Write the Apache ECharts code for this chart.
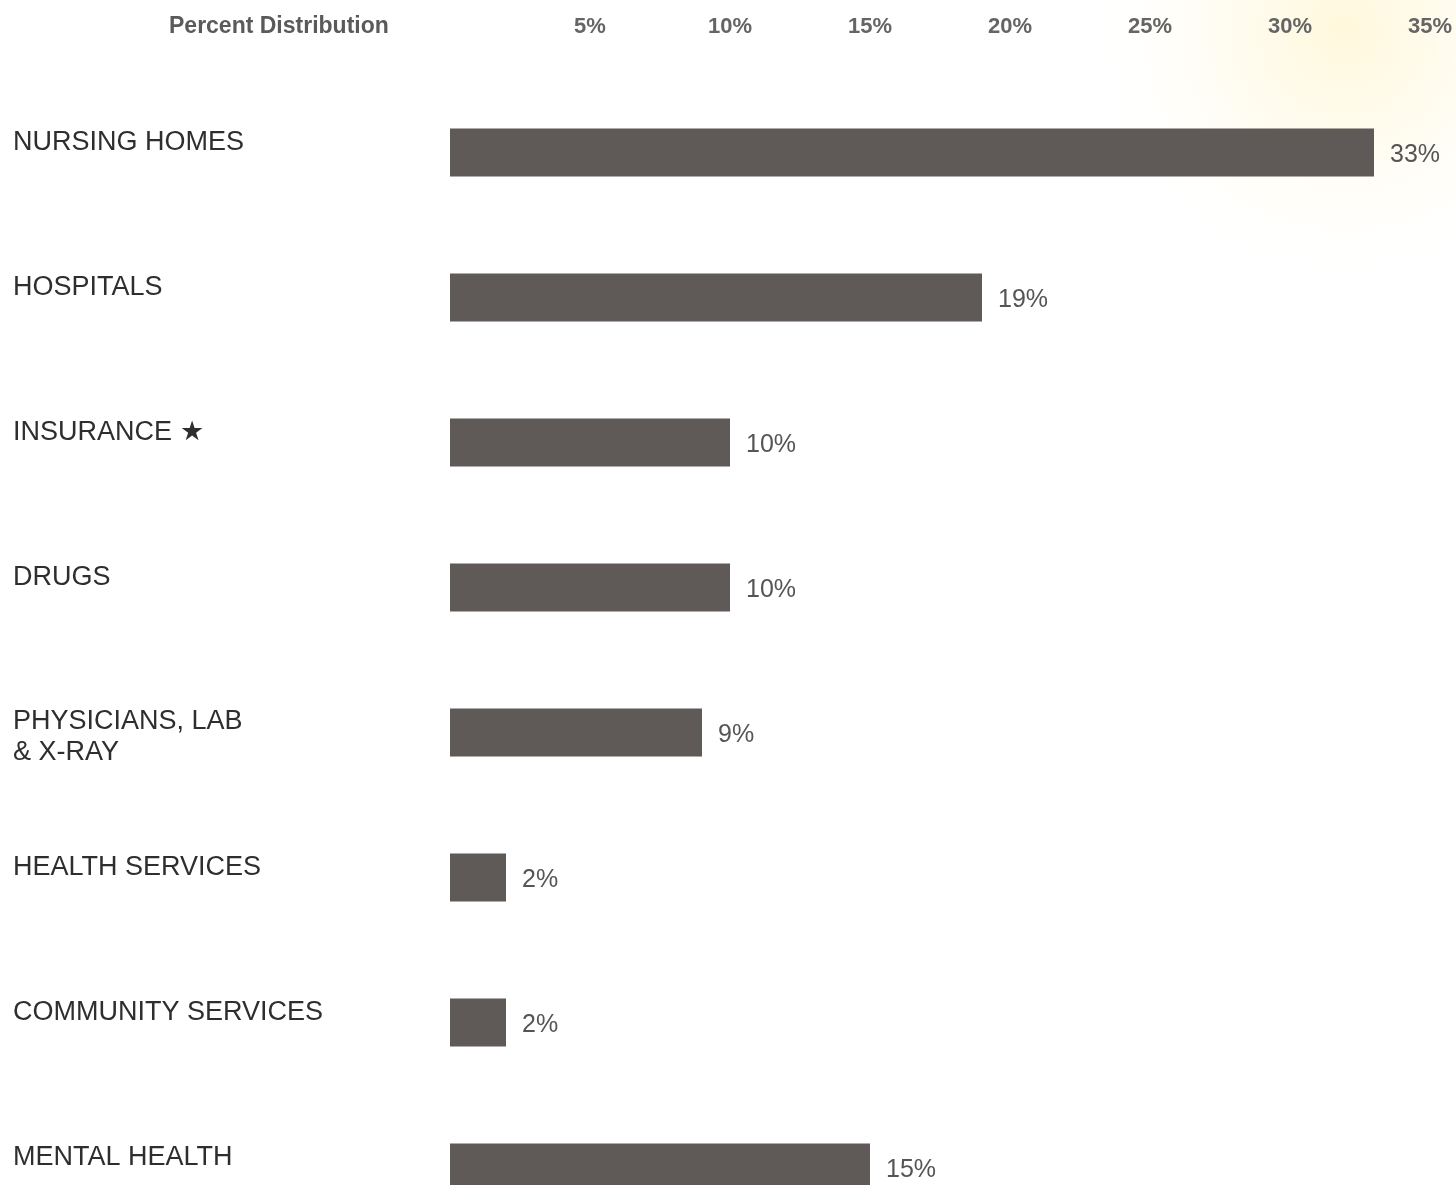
<!DOCTYPE html>
<html>
<head>
<meta charset="utf-8">
<title>Percent Distribution</title>
<script src="https://cdn.jsdelivr.net/npm/echarts@6/dist/echarts.min.js"></script>
<style>
  html, body { margin: 0; padding: 0; background: #ffffff; overflow: hidden; }
  #chart { width: 1456px; height: 1240px; }
</style>
</head>
<body>
<div id="chart"></div>
<script>
// Spending categories, top to bottom
const categories = [
  'NURSING HOMES',
  'HOSPITALS',
  'INSURANCE ★',
  'DRUGS',
  'PHYSICIANS, LAB\n& X-RAY',
  'HEALTH SERVICES',
  'COMMUNITY SERVICES',
  'MENTAL HEALTH'
];
// Share of spending, percent
const shares = [33, 19, 10, 10, 9, 2, 2, 15];
// Scale along the top
const axisMin = 0;
const axisMax = 35;
const axisStep = 5;

const chart = echarts.init(document.getElementById('chart'));

chart.setOption({
  backgroundColor: '#ffffff',
  animation: false,
  graphic: [{
    type: 'circle',
    silent: true,
    z: -10,
    shape: { cx: 1345, cy: 30, r: 240 },
    style: {
      fill: new echarts.graphic.RadialGradient(0.5, 0.5, 0.5, [
        { offset: 0, color: 'rgba(255, 238, 170, 0.42)' },
        { offset: 0.5, color: 'rgba(255, 242, 190, 0.22)' },
        { offset: 1, color: 'rgba(255, 250, 225, 0)' }
      ])
    }
  }],
  title: {
    text: 'Percent Distribution',
    left: 164,
    top: 10,
    textStyle: {
      fontFamily: 'Liberation Sans, Arial, sans-serif',
      fontWeight: 'bold',
      fontSize: 23,
      color: '#5a5a5a'
    }
  },
  grid: {
    left: 450,
    right: 26,
    top: 80,
    bottom: 0,
    containLabel: false
  },
  xAxis: {
    type: 'value',
    position: 'top',
    min: axisMin,
    max: axisMax,
    interval: axisStep,
    axisLine: { show: false },
    axisTick: { show: false },
    splitLine: { show: false },
    axisLabel: {
      margin: 42,
      fontFamily: 'Liberation Sans, Arial, sans-serif',
      fontWeight: 'bold',
      fontSize: 22,
      color: '#656565',
      formatter: v => (v === 0 ? '' : v + '%')
    }
  },
  yAxis: {
    type: 'category',
    inverse: true,
    data: categories,
    axisLine: { show: false },
    axisTick: { show: false },
    splitLine: { show: false },
    axisLabel: {
      align: 'left',
      margin: 437,
      verticalAlign: 'middle',
      formatter: name => {
        const lines = name.split('\n').map(s => '{t|' + s + '}');
        // single lines sit toward the bar's top edge; the two-line label starts there too
        return lines.length > 1
          ? '{g12| }\n' + lines.join('\n')
          : lines[0] + '\n{g20| }';
      },
      rich: {
        t: {
          fontFamily: 'Liberation Sans, Arial, sans-serif',
          fontSize: 27,
          lineHeight: 31,
          color: '#2e2e2e'
        },
        g12: { fontSize: 8, lineHeight: 10 },
        g20: { fontSize: 8, lineHeight: 20 }
      }
    }
  },
  series: [{
    type: 'bar',
    data: shares,
    barWidth: 48,
    itemStyle: { color: '#5f5957' },
    label: {
      show: true,
      position: 'right',
      distance: 16,
      offset: [0, 3],
      fontFamily: 'Liberation Sans, Arial, sans-serif',
      fontSize: 25,
      color: '#555555',
      formatter: p => p.value + '%'
    }
  }]
});
</script>
</body>
</html>
